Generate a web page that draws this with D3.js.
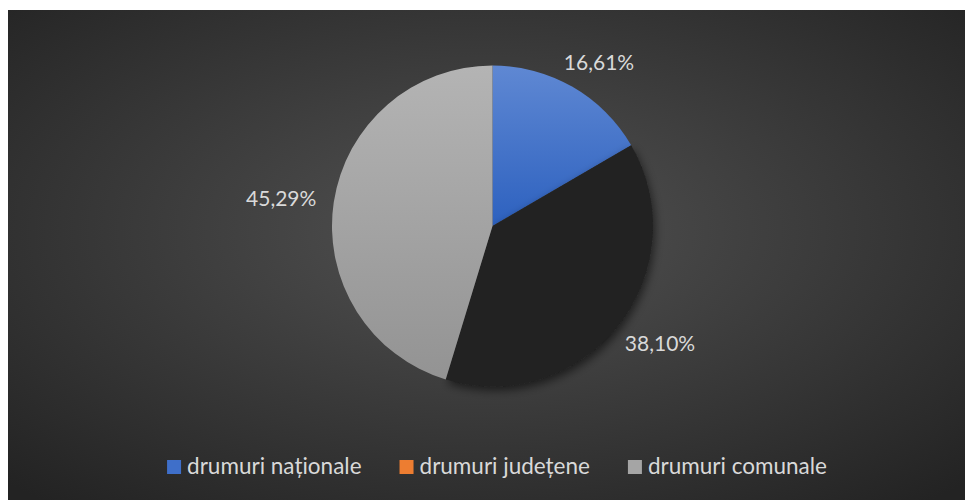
<!DOCTYPE html>
<html>
<head>
<meta charset="utf-8">
<script src="https://cdn.jsdelivr.net/npm/d3@7"></script>
<style>
  html, body { margin: 0; padding: 0; background: #ffffff; }
  svg { display: block; }
  .label-text { font-family: Lato, "Open Sans", sans-serif; fill: #d9d9d9; }
</style>
</head>
<body>
<div id="chart"></div>
<script>
// road network share, by category
const categories = ["drumuri naționale", "drumuri județene", "drumuri comunale"];
const shares = [16.61, 38.10, 45.29];
const labels = ["16,61%", "38,10%", "45,29%"];

const canvWidth = 965, canvHeight = 500;
const frame = {left: 8, top: 10, right: 965, bottom: 500};
const cx = 492.5, cy = 226, radius = 160.5;

const svg = d3.select("#chart").append("svg")
    .attr("width", canvWidth)
    .attr("height", canvHeight);

const defs = svg.append("defs");

// background radial gradient
const bg = defs.append("radialGradient")
    .attr("id", "bg-grad")
    .attr("cx", "50%").attr("cy", "45%").attr("r", "72%");
bg.append("stop").attr("offset", "0%").attr("stop-color", "#525252");
bg.append("stop").attr("offset", "100%").attr("stop-color", "#232323");

// slice fills
const sliceGrads = [
  ["#5f88d3", "#2d61bf"],
  ["#212121", "#212121"],
  ["#b4b4b4", "#939393"]
];
sliceGrads.forEach((c, i) => {
  const lg = defs.append("linearGradient")
      .attr("id", "slice-grad-" + i)
      .attr("x1", 0).attr("y1", 0).attr("x2", 0).attr("y2", 1);
  lg.append("stop").attr("offset", "0%").attr("stop-color", c[0]);
  lg.append("stop").attr("offset", "100%").attr("stop-color", c[1]);
});
// legend swatch colours (series colours)
const legendColors = ["#3f6fc9", "#ed7d31", "#a5a5a5"];

const shadow = defs.append("filter")
    .attr("id", "slice-shadow")
    .attr("x", "-20%").attr("y", "-20%").attr("width", "140%").attr("height", "140%");
shadow.append("feDropShadow")
    .attr("dx", 2).attr("dy", 4)
    .attr("stdDeviation", 5)
    .attr("flood-color", "#000")
    .attr("flood-opacity", 0.55);

svg.append("rect")
    .attr("x", frame.left)
    .attr("y", frame.top)
    .attr("width", frame.right - frame.left)
    .attr("height", frame.bottom - frame.top)
    .attr("fill", "url(#bg-grad)");

const pie = d3.pie().sort(null).value(d => d);
const arcs = pie(shares);
const arc = d3.arc().innerRadius(0).outerRadius(radius);

const g = svg.append("g")
    .attr("id", "pie")
    .attr("transform", "translate(" + cx + "," + cy + ")");

// only the dark slice carries a shadow
g.selectAll("path.slice")
  .data(arcs)
  .enter()
  .append("path")
    .attr("class", "slice")
    .attr("d", arc)
    .attr("fill", (d, i) => "url(#slice-grad-" + i + ")")
    .attr("filter", (d, i) => i === 1 ? "url(#slice-shadow)" : null);

// data labels, outside end
const fontSize = 21;
const lab = g.selectAll("text.data-label")
  .data(arcs)
  .enter()
  .append("text")
    .attr("class", "data-label label-text")
    .style("font-size", fontSize + "px")
    .attr("text-anchor", "middle")
    .text((d, i) => labels[i]);

lab.each(function (d) {
  const a = (d.startAngle + d.endAngle) / 2;
  const w = this.getComputedTextLength();
  const h = fontSize * 0.95;
  const r = radius + 18;
  const x = Math.sin(a) * r + Math.sin(a) * w / 2;
  const y = -Math.cos(a) * r - Math.cos(a) * h / 2;
  d3.select(this).attr("x", x).attr("y", y + fontSize * 0.36);
});

// legend
const legend = svg.append("g").attr("id", "legend");
const legendY = 474, swatch = 14, gapText = 6, gapItem = 38;
const items = legend.selectAll("g.item")
  .data(categories)
  .enter()
  .append("g")
    .attr("class", "item");

items.append("rect")
    .attr("width", swatch)
    .attr("height", swatch)
    .attr("y", legendY - swatch)
    .attr("fill", (d, i) => legendColors[i]);

items.append("text")
    .attr("class", "label-text")
    .style("font-size", "22.5px")
    .attr("x", swatch + gapText)
    .attr("y", legendY)
    .text(d => d);

let widths = [];
items.each(function () {
  widths.push(swatch + gapText + d3.select(this).select("text").node().getComputedTextLength());
});
const total = d3.sum(widths) + gapItem * (widths.length - 1);
let xPos = 497 - total / 2;
items.each(function (d, i) {
  d3.select(this).attr("transform", "translate(" + xPos + ",0)");
  xPos += widths[i] + gapItem;
});
</script>
</body>
</html>
